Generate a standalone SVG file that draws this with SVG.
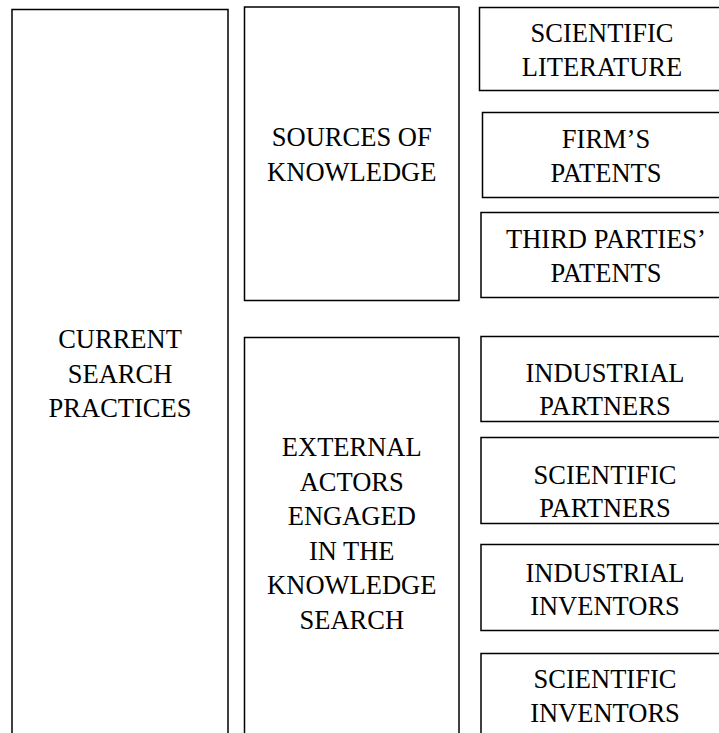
<svg xmlns="http://www.w3.org/2000/svg" width="719" height="733" viewBox="0 0 719 733">
<style>
rect{fill:#fff;stroke:#000;stroke-width:1.5}
text{font-family:"Liberation Serif","Times New Roman",serif;font-size:26.5px;fill:#000;text-anchor:middle}
</style>
<rect x="0" y="0" width="719" height="733" style="stroke:none"/>
<g id="current-search-practices">
<rect x="12" y="9.5" width="216" height="740"/>
<text x="120" y="348">CURRENT</text>
<text x="120" y="383">SEARCH</text>
<text x="120" y="417">PRACTICES</text>
</g>
<g id="sources-of-knowledge">
<rect x="244.5" y="7" width="214.5" height="293.5"/>
<text x="351.75" y="146">SOURCES OF</text>
<text x="351.75" y="181">KNOWLEDGE</text>
</g>
<g id="external-actors">
<rect x="244.5" y="337.5" width="214.5" height="420"/>
<text x="351.75" y="456">EXTERNAL</text>
<text x="351.75" y="490.5">ACTORS</text>
<text x="351.75" y="525">ENGAGED</text>
<text x="351.75" y="559.5">IN THE</text>
<text x="351.75" y="594">KNOWLEDGE</text>
<text x="351.75" y="628.5">SEARCH</text>
</g>
<g id="scientific-literature">
<rect x="479.5" y="7.5" width="260" height="83"/>
<text x="602" y="42">SCIENTIFIC</text>
<text x="602" y="76">LITERATURE</text>
</g>
<g id="firms-patents">
<rect x="482.5" y="112.5" width="260" height="85"/>
<text x="606" y="148">FIRM’S</text>
<text x="606" y="182">PATENTS</text>
</g>
<g id="third-parties-patents">
<rect x="481" y="212.5" width="260" height="85"/>
<text x="606" y="248">THIRD PARTIES’</text>
<text x="606" y="282">PATENTS</text>
</g>
<g id="industrial-partners">
<rect x="481" y="336.5" width="260" height="85"/>
<text x="605" y="382">INDUSTRIAL</text>
<text x="605" y="415">PARTNERS</text>
</g>
<g id="scientific-partners">
<rect x="481" y="437.5" width="260" height="86"/>
<text x="605" y="483.5">SCIENTIFIC</text>
<text x="605" y="517">PARTNERS</text>
</g>
<g id="industrial-inventors">
<rect x="481" y="544.5" width="260" height="86"/>
<text x="605" y="582">INDUSTRIAL</text>
<text x="605" y="615">INVENTORS</text>
</g>
<g id="scientific-inventors">
<rect x="481" y="653.5" width="260" height="120"/>
<text x="605" y="688">SCIENTIFIC</text>
<text x="605" y="722">INVENTORS</text>
</g>
<g id="connectors"></g>
</svg>
